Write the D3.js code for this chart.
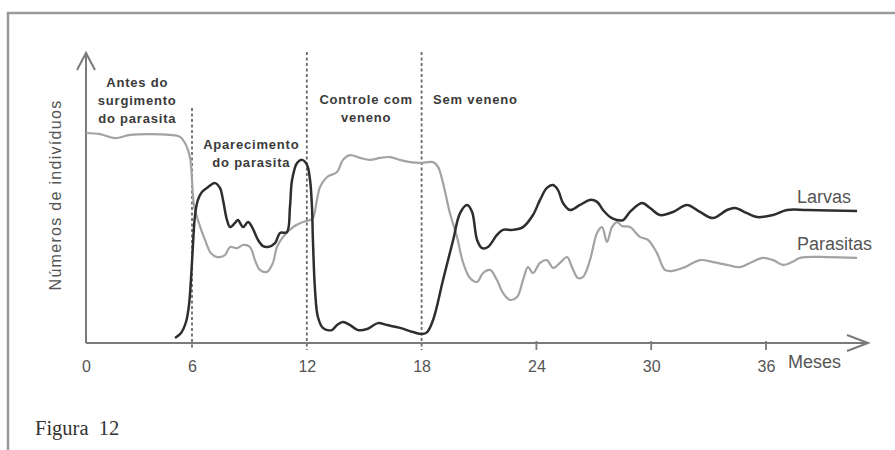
<!DOCTYPE html>
<html>
<head>
<meta charset="utf-8">
<script src="https://cdn.jsdelivr.net/npm/d3@7"></script>
<style>
  body { margin: 0; background: #fff; }
  svg { display: block; }
</style>
</head>
<body>
<svg width="895" height="450"></svg>
<script>
// months on the x axis
var tickMonths = [0, 6, 12, 18, 24, 30, 36];
var phaseMonths = [6, 12, 18];

// phase labels
var phaseLabels = [
  {lines: ["Antes do", "surgimento", "do parasita"], month: 2.9},
  {lines: ["Aparecimento", "do parasita"], month: 9.1},
  {lines: ["Controle com", "veneno"], month: 15.1},
  {lines: ["Sem veneno"], month: 18.6}
];

// larvas (month, relative number)
var larvasMonth = [5.04, 5.38, 5.66, 5.83, 5.94, 6.05, 6.16, 6.31, 6.52, 6.84, 7.2, 7.46, 7.62, 7.83, 7.99, 8.25, 8.4, 8.67, 8.93, 9.14, 9.45, 9.71, 9.97, 10.34, 10.6, 10.96, 11.12, 11.23, 11.49, 11.75, 12.01, 12.17, 12.27, 12.32, 12.43, 12.58, 12.84, 13.31, 13.58, 13.89, 14.26, 14.68, 15.15, 15.72, 16.19, 16.87, 17.55, 18.02, 18.29, 18.6, 19.12, 19.65, 20.01, 20.38, 20.64, 20.9, 21.16, 21.47, 21.94, 22.25, 22.77, 23.3, 23.82, 24.19, 24.55, 24.87, 25.13, 25.39, 25.76, 26.28, 26.8, 27.17, 27.48, 27.85, 28.21, 28.53, 28.89, 29.52, 29.94, 30.46, 31.14, 31.87, 32.55, 33.23, 33.96, 34.38, 35.0, 35.53, 36.37, 37.1, 38.15, 40.76];
var larvasValue = [1.8, 3.6, 7.5, 13.6, 22.5, 35.0, 45.7, 51.1, 53.9, 55.7, 57.1, 55.4, 51.1, 43.9, 41.4, 42.9, 43.9, 41.4, 43.2, 41.4, 36.8, 34.6, 34.3, 35.7, 39.3, 39.6, 48.6, 58.2, 64.3, 65.4, 63.6, 58.2, 48.6, 36.8, 18.9, 9.3, 5.4, 4.6, 6.4, 7.5, 6.4, 4.6, 5.0, 7.1, 6.4, 5.4, 3.9, 3.2, 3.9, 8.2, 22.5, 36.8, 46.4, 49.3, 46.8, 36.8, 33.9, 34.3, 38.6, 40.4, 40.4, 41.4, 45.7, 51.1, 55.4, 56.4, 54.6, 50.0, 47.5, 49.3, 51.1, 50.4, 47.5, 45.0, 43.9, 43.9, 46.8, 50.0, 48.2, 45.7, 46.8, 49.3, 46.8, 44.6, 47.5, 48.2, 46.4, 45.0, 45.7, 47.5, 47.5, 47.1];

// parasitas (month, relative number)
var parasitasMonth = [0, 0.79, 1.64, 2.49, 3.57, 4.75, 5.32, 5.66, 5.89, 6.0, 6.1, 6.31, 6.68, 6.99, 7.31, 7.72, 7.99, 8.35, 8.67, 9.03, 9.29, 9.55, 9.92, 10.23, 10.44, 10.76, 11.28, 11.8, 12.17, 12.32, 12.53, 12.69, 13.06, 13.58, 13.89, 14.26, 14.78, 15.3, 15.83, 16.35, 16.87, 17.4, 17.92, 18.6, 18.86, 19.12, 19.48, 19.85, 20.16, 20.53, 20.9, 21.21, 21.58, 21.94, 22.25, 22.62, 22.99, 23.3, 23.56, 23.82, 24.19, 24.55, 24.87, 25.23, 25.6, 25.86, 26.17, 26.44, 26.8, 27.17, 27.43, 27.69, 27.95, 28.21, 28.47, 28.89, 29.41, 29.83, 30.3, 30.72, 31.08, 31.76, 32.55, 33.23, 33.96, 34.64, 35.16, 35.84, 36.37, 36.89, 37.36, 37.78, 39.19, 40.76];
var parasitasValue = [75.0, 74.6, 73.2, 74.3, 74.6, 74.3, 73.6, 70.7, 66.1, 58.2, 49.3, 43.9, 36.8, 32.1, 30.7, 31.4, 34.3, 33.9, 35.0, 34.3, 29.6, 26.1, 25.4, 28.6, 34.3, 37.9, 41.4, 43.2, 43.9, 44.6, 51.1, 55.7, 59.3, 61.1, 65.4, 67.1, 66.1, 65.4, 66.1, 66.4, 65.4, 64.6, 64.3, 64.6, 62.9, 57.1, 46.4, 37.9, 28.9, 23.2, 21.8, 25.0, 26.1, 22.5, 17.9, 15.4, 16.4, 22.5, 27.1, 25.0, 28.6, 29.6, 26.8, 28.6, 30.7, 27.1, 23.2, 23.6, 29.6, 39.3, 41.4, 36.1, 41.4, 43.2, 41.8, 41.4, 37.9, 36.8, 32.1, 26.1, 25.7, 27.1, 29.6, 28.9, 27.9, 27.1, 28.6, 30.4, 29.6, 27.9, 28.9, 30.4, 30.7, 30.4];

var svg = d3.select("svg");

// scales (the drawn axis is not evenly spaced between 0 and 6)
var x = d3.scaleLinear().domain([0, 6, 36]).range([86, 192, 766]);
var y = d3.scaleLinear().domain([0, 100]).range([343, 63]);
var yTop = 53, xEnd = 868;

// page frame
svg.append("path")
    .attr("d", "M8,450V13H895")
    .attr("fill", "none")
    .attr("stroke", "#9a9a9a")
    .attr("stroke-width", 2.5);

svg.append("text")
    .attr("x", 35).attr("y", 435)
    .attr("font-family", "Liberation Serif, serif")
    .attr("font-size", 20.5)
    .attr("fill", "#333")
    .attr("xml:space", "preserve")
    .text("Figura  12");

// phase separators
svg.selectAll("line.phase")
    .data(phaseMonths)
    .enter().append("line")
    .attr("class", "phase")
    .attr("x1", function(d){ return x(d); })
    .attr("x2", function(d){ return x(d); })
    .attr("y1", function(d){ return d == 6 ? 108 : 52; })
    .attr("y2", 350)
    .attr("stroke", "#6a6a6a")
    .attr("stroke-width", 1.8)
    .attr("stroke-dasharray", "3,2.5");

// axes
var axisColor = "#7a7a7a";
svg.append("line")
    .attr("x1", x(0)).attr("x2", xEnd)
    .attr("y1", y(0)).attr("y2", y(0))
    .attr("stroke", axisColor).attr("stroke-width", 2);
svg.append("line")
    .attr("x1", x(0)).attr("x2", x(0))
    .attr("y1", y(0)).attr("y2", yTop)
    .attr("stroke", axisColor).attr("stroke-width", 2);
svg.append("path")
    .attr("d", "M" + (x(0) - 9) + "," + (yTop + 17) + "L" + x(0) + "," + yTop + "L" + (x(0) + 9) + "," + (yTop + 17))
    .attr("fill", "none").attr("stroke", axisColor).attr("stroke-width", 2);
svg.append("path")
    .attr("d", "M" + (xEnd - 21) + "," + (y(0) - 8) + "L" + xEnd + "," + y(0) + "L" + (xEnd - 21) + "," + (y(0) + 8))
    .attr("fill", "none").attr("stroke", axisColor).attr("stroke-width", 2);

var xAxis = svg.append("g")
    .attr("transform", "translate(0," + y(0) + ")")
    .call(d3.axisBottom(x).tickValues(tickMonths).tickSize(0).tickPadding(29));
xAxis.select(".domain").remove();
xAxis.selectAll("text")
    .attr("font-family", "Liberation Sans, Arial, sans-serif")
    .attr("font-size", 16)
    .attr("fill", "#555")
    .attr("dy", 0);

// small ticks after the last separator
svg.selectAll("line.tick")
    .data(tickMonths.filter(function(d){ return d > 18; }))
    .enter().append("line")
    .attr("class", "tick")
    .attr("x1", function(d){ return x(d); })
    .attr("x2", function(d){ return x(d); })
    .attr("y1", y(0) - 2).attr("y2", y(0) + 7)
    .attr("stroke", axisColor).attr("stroke-width", 1.8);

svg.append("text")
    .attr("x", 788).attr("y", 368)
    .attr("font-family", "Liberation Sans, Arial, sans-serif")
    .attr("font-size", 18)
    .attr("fill", "#555")
    .text("Meses");

svg.append("text")
    .attr("transform", "translate(61,195) rotate(-90)")
    .attr("text-anchor", "middle")
    .attr("font-family", "Liberation Sans, Arial, sans-serif")
    .attr("font-size", 16)
    .attr("letter-spacing", 1.3)
    .attr("fill", "#555")
    .text("Números de indivíduos");

// phase labels
phaseLabels.forEach(function(p, i){
    var t = svg.append("text")
        .attr("font-family", "Liberation Sans, Arial, sans-serif")
        .attr("font-weight", "bold")
        .attr("font-size", 13)
        .attr("letter-spacing", 0.8)
        .attr("fill", "#3a3a3a")
        .attr("text-anchor", i == 3 ? "start" : "middle");
    var y0 = [87, 149, 104, 104][i];
    t.selectAll("tspan")
        .data(p.lines)
        .enter().append("tspan")
        .attr("x", x(p.month))
        .attr("y", function(d, j){ return y0 + j * 18; })
        .text(function(d){ return d; });
});

// series lines
var line = d3.line()
    .x(function(d){ return x(d[0]); })
    .y(function(d){ return y(d[1]); })
    .curve(d3.curveCatmullRom.alpha(0.5));

svg.append("path")
    .datum(d3.zip(parasitasMonth, parasitasValue))
    .attr("d", line)
    .attr("fill", "none")
    .attr("stroke", "#a3a3a3")
    .attr("stroke-width", 2.2);

svg.append("path")
    .datum(d3.zip(larvasMonth, larvasValue))
    .attr("d", line)
    .attr("fill", "none")
    .attr("stroke", "#2e2e2e")
    .attr("stroke-width", 2.5);

// series names
svg.append("text")
    .attr("x", 797).attr("y", 203)
    .attr("font-family", "Liberation Sans, Arial, sans-serif")
    .attr("font-size", 18)
    .attr("fill", "#555")
    .text("Larvas");
svg.append("text")
    .attr("x", 797).attr("y", 250)
    .attr("font-family", "Liberation Sans, Arial, sans-serif")
    .attr("font-size", 18)
    .attr("fill", "#555")
    .text("Parasitas");
</script>
</body>
</html>
